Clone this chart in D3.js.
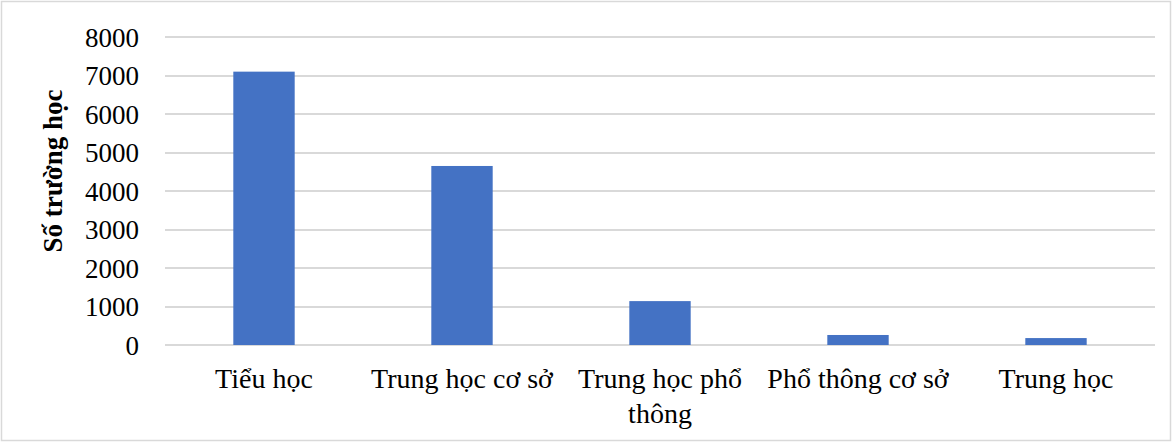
<!DOCTYPE html>
<head>
<meta charset="utf-8">
<title>Số trường học</title>
<style>
    body { margin: 0; background: white; }
    text { font-family: "Liberation Serif", "Times New Roman", serif; fill: #000; }
    .axis--y text { font-size: 27px; }
    .axis--x text { font-size: 28px; }
    .axis path { display: none; }
    .grid line { stroke: #d9d9d9; stroke-width: 2px; shape-rendering: crispEdges; }
    .ytitle { font-size: 27px; font-weight: bold; }
</style>
</head>
<body>
<svg></svg>
<script src="https://cdn.jsdelivr.net/npm/d3@7/dist/d3.min.js"></script>
<script>

    var categories = ["Tiểu học", "Trung học cơ sở", "Trung học phổ thông", "Phổ thông cơ sở", "Trung học"];
    var values = [7100, 4650, 1140, 260, 180];
    var yTicks = [0, 1000, 2000, 3000, 4000, 5000, 6000, 7000, 8000];

    var W = 1173, H = 443;
    var svg = d3.select("svg").attr("width", W).attr("height", H);

    // chart border
    svg.append("rect")
        .attr("x", 1.5).attr("y", 1.5)
        .attr("width", W - 4).attr("height", H - 4)
        .attr("fill", "white")
        .attr("stroke", "#d9d9d9")
        .attr("stroke-width", 1.5);

    var margin = {top: 37, right: 18, bottom: 98, left: 165},
        width = W - margin.left - margin.right,
        height = H - margin.top - margin.bottom;

    var g = svg.append("g")
        .attr("transform", "translate(" + margin.left + "," + margin.top + ")");

    var x = d3.scaleBand()
        .domain(categories)
        .range([0, width])
        .paddingInner(0.69)
        .paddingOuter(0.345);

    var y = d3.scaleLinear()
        .domain([0, 8000])
        .range([height, 0]);

    g.append("g")
        .attr("class", "grid")
        .selectAll("line")
        .data(yTicks)
        .enter().append("line")
        .attr("x1", 0).attr("x2", width)
        .attr("y1", function (d) { return Math.round(y(d)); })
        .attr("y2", function (d) { return Math.round(y(d)); });

    g.append("g")
        .attr("class", "axis axis--y")
        .call(d3.axisLeft(y).tickValues(yTicks).tickSize(0).tickPadding(26).tickFormat(d3.format("d")))
        .selectAll("text").attr("dy", "0.35em");

    g.selectAll(".bar")
        .data(values)
        .enter().append("rect")
        .attr("class", "bar")
        .attr("x", function (d, i) { return x(categories[i]); })
        .attr("width", x.bandwidth())
        .attr("y", function (d) { return y(d); })
        .attr("height", function (d) { return height - y(d); })
        .attr("fill", "#4472c4");

    // category labels, wrapped like the original
    var wrapped = {"Trung học phổ thông": ["Trung học phổ", "thông"]};
    var xl = g.append("g").attr("class", "axis axis--x");
    categories.forEach(function (c) {
        var lines = wrapped[c] || [c];
        var t = xl.append("text")
            .attr("text-anchor", "middle")
            .attr("x", x(c) + x.bandwidth() / 2)
            .attr("y", height + 43);
        lines.forEach(function (l, i) {
            t.append("tspan")
                .attr("x", x(c) + x.bandwidth() / 2)
                .attr("dy", i === 0 ? 0 : 35)
                .text(l);
        });
    });

    svg.append("text")
        .attr("class", "ytitle")
        .attr("text-anchor", "middle")
        .attr("transform", "translate(62,171) rotate(-90)")
        .text("Số trường học");

</script>
</body>
